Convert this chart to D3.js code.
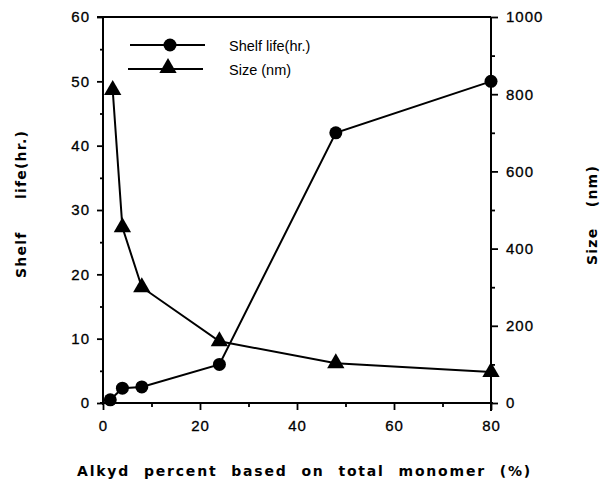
<!DOCTYPE html>
<html>
<head>
<meta charset="utf-8">
<script src="https://cdn.jsdelivr.net/npm/d3@7"></script>
<style>
  html, body { margin: 0; padding: 0; background: #fff; }
  svg { display: block; }
  .tick text { font-family: "Liberation Sans", Arial, sans-serif; font-size: 15px; fill: #000; stroke: #000; stroke-width: 0.3px; }
  .domain { display: none; }
  .tick line { stroke: #000; stroke-width: 1.8; }
</style>
</head>
<body>
<svg id="chart" width="603" height="480"></svg>
<script>
// ---- data ----
const shelfX = [1.5, 4, 8, 24, 48, 80];
const shelfLife = [0.5, 2.3, 2.5, 6, 42, 50];
const sizeX = [2, 4, 8, 24, 48, 80];
const sizeNm = [811, 455, 300, 160, 103, 80];
const xTicks = [0, 20, 40, 60, 80];
const xMinor = [10, 30, 50, 70];
const leftTicks = [0, 10, 20, 30, 40, 50, 60];
const leftMinor = [5, 15, 25, 35, 45, 55];
const rightTicks = [0, 200, 400, 600, 800, 1000];
const rightMinor = [100, 300, 500, 700, 900];
const legendLabels = ["Shelf life(hr.)", "Size (nm)"];

// ---- layout ----
const svg = d3.select("#chart");
const L = 103, R = 491, T = 17, B = 403;
const x = d3.scaleLinear().domain([0, 80]).range([L, R]);
const yL = d3.scaleLinear().domain([0, 60]).range([B, T]);
const yR = d3.scaleLinear().domain([0, 1000]).range([B, T]);

// frame lines
const frame = svg.append("g").attr("stroke", "#000").attr("stroke-width", 2).attr("fill", "none");
frame.append("line").attr("x1", L).attr("x2", L).attr("y1", T).attr("y2", B + 2);
frame.append("line").attr("x1", R).attr("x2", R).attr("y1", T).attr("y2", B + 8);
frame.append("line").attr("x1", L - 6).attr("x2", R).attr("y1", T).attr("y2", T);
frame.append("line").attr("x1", L - 3).attr("x2", R + 2).attr("y1", B).attr("y2", B);

// axes
svg.append("g").attr("transform", `translate(${L},0)`)
  .call(d3.axisLeft(yL).tickValues(leftTicks).tickSize(6).tickPadding(7).tickFormat(d3.format("d")));
svg.append("g").attr("transform", `translate(${L},0)`)
  .call(d3.axisLeft(yL).tickValues(leftMinor).tickSize(3).tickFormat(""));

svg.append("g").attr("transform", `translate(${R},0)`)
  .call(d3.axisRight(yR).tickValues(rightTicks).tickSize(7).tickPadding(8).tickFormat(d3.format("d")));
svg.append("g").attr("transform", `translate(${R},0)`)
  .call(d3.axisRight(yR).tickValues(rightMinor).tickSize(4).tickFormat(""));

svg.append("g").attr("transform", `translate(0,${B})`)
  .call(d3.axisBottom(x).tickValues(xTicks).tickSize(7).tickPadding(10).tickFormat(d3.format("d")));
svg.append("g").attr("transform", `translate(0,${B})`)
  .call(d3.axisBottom(x).tickValues(xMinor).tickSize(4).tickFormat(""));

svg.selectAll(".tick text").attr("letter-spacing", "1px");

// ---- series ----
const shelfPts = shelfX.map((v, i) => [v, shelfLife[i]]);
const sizePts = sizeX.map((v, i) => [v, sizeNm[i]]);

svg.append("path")
  .attr("d", d3.line().x(d => x(d[0])).y(d => yL(d[1]))(shelfPts))
  .attr("fill", "none").attr("stroke", "#000").attr("stroke-width", 2);
svg.append("path")
  .attr("d", d3.line().x(d => x(d[0])).y(d => yR(d[1]))(sizePts))
  .attr("fill", "none").attr("stroke", "#000").attr("stroke-width", 2);

svg.selectAll(".shelf").data(shelfPts).enter().append("circle")
  .attr("cx", d => x(d[0])).attr("cy", d => yL(d[1])).attr("r", 6.5).attr("fill", "#000");

const tri = d3.symbol().type(d3.symbolTriangle).size(130);
svg.selectAll(".size").data(sizePts).enter().append("path")
  .attr("d", tri).attr("transform", d => `translate(${x(d[0])},${yR(d[1])})`).attr("fill", "#000");

// ---- legend ----
const lg = svg.append("g");
lg.append("line").attr("x1", 130).attr("x2", 205).attr("y1", 45).attr("y2", 45).attr("stroke", "#000").attr("stroke-width", 2);
lg.append("circle").attr("cx", 170).attr("cy", 45).attr("r", 6.5).attr("fill", "#000");
lg.append("line").attr("x1", 128).attr("x2", 203).attr("y1", 69).attr("y2", 69).attr("stroke", "#000").attr("stroke-width", 2);
lg.append("path").attr("d", tri).attr("transform", "translate(168,68)").attr("fill", "#000");
lg.selectAll("text").data(legendLabels).enter().append("text")
  .attr("x", 229).attr("y", (d, i) => 51 + i * 24)
  .attr("font-family", "Liberation Sans, Arial, sans-serif").attr("font-size", 14.5)
  .text(d => d);

// ---- axis titles ----
const titleFont = "DejaVu Sans, Liberation Sans, sans-serif";
function title(txt, transform, target, ls) {
  const t = svg.append("text")
    .attr("transform", transform)
    .attr("text-anchor", "middle").attr("font-family", titleFont).attr("font-weight", "bold")
    .attr("font-size", 14).attr("letter-spacing", ls + "px")
    .text(txt);
  const gaps = txt.split(" ").length - 1;
  const w = t.node().getComputedTextLength();
  if (gaps > 0) t.attr("word-spacing", Math.max(0, (target - w) / gaps) + "px");
  return t;
}
title("Shelf life(hr.)", "translate(26,204) rotate(-90)", 148, 1.2);
title("Size (nm)", "translate(597,215) rotate(-90)", 100, 1.2);
title("Alkyd percent based on total monomer (%)", "translate(304.5,476)", 455, 1.8);
</script>
</body>
</html>
